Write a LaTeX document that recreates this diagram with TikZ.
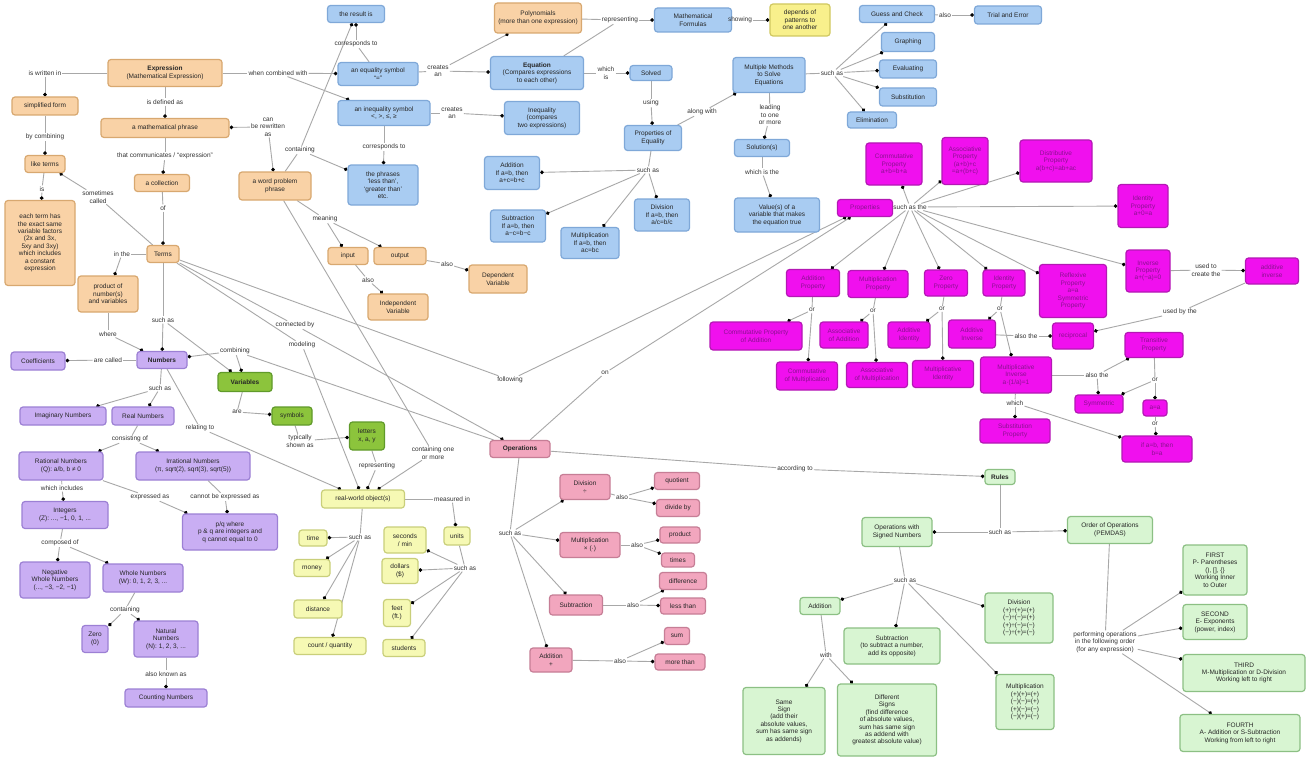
\documentclass[tikz,border=0pt]{standalone}
\usepackage{fontspec}
\setmainfont{Liberation Sans}
\usetikzlibrary{arrows.meta,backgrounds}
\newcommand{\myfs}{\fontsize{6.5}{7.4}\selectfont}
\definecolor{orF}{HTML}{F9D2A6}\definecolor{orD}{HTML}{D8A870}
\definecolor{blF}{HTML}{A9CCF2}\definecolor{blD}{HTML}{7FA8D8}
\definecolor{yeF}{HTML}{F8F08C}\definecolor{yeD}{HTML}{D0C860}
\definecolor{lyF}{HTML}{F6F9B4}\definecolor{lyD}{HTML}{C9CF7A}
\definecolor{mgF}{HTML}{F010EE}\definecolor{mgD}{HTML}{B418B4}
\definecolor{mgT}{HTML}{8A1090}
\definecolor{pkF}{HTML}{F2A6BE}\definecolor{pkD}{HTML}{C67E96}
\definecolor{puF}{HTML}{C9AEF3}\definecolor{puD}{HTML}{9C80D4}
\definecolor{grF}{HTML}{8CC43C}\definecolor{grD}{HTML}{609A2A}
\definecolor{lgF}{HTML}{D8F5D2}\definecolor{lgD}{HTML}{8CC084}
\definecolor{lnC}{HTML}{A8A8A8}
\newcommand{\myln}[2]{\draw[ln] (#1) -- (#2);}
\newcommand{\myar}[2]{\draw[ar] (#1) -- (#2);}
\begin{document}
\begin{tikzpicture}[x=1pt,y=-1pt,
 bx/.style={draw, rounded corners=3pt, line width=1.2pt, align=center, inner sep=1pt, font=\myfs, text=black!85},
 sz/.style 2 args={minimum width=#1, minimum height=#2},
 ob/.style={bx, fill=orF, draw=orD},
 bb/.style={bx, fill=blF, draw=blD},
 yb/.style={bx, fill=yeF, draw=yeD},
 lyb/.style={bx, fill=lyF, draw=lyD},
 mb/.style={bx, fill=mgF, draw=mgD, text=mgT},
 pb/.style={bx, fill=pkF, draw=pkD},
 ub/.style={bx, fill=puF, draw=puD},
 gb/.style={bx, fill=grF, draw=grD},
 lgb/.style={bx, fill=lgF, draw=lgD},
 lab/.style={font=\myfs, align=center, inner sep=1pt, text=black!80},
 ln/.style={draw=lnC, line width=0.9pt},
 ar/.style={ln, -{Circle[length=3.6pt,color=black]}},
]
\useasboundingbox (0,0) rectangle (1306,757);
% ---------------- orange ----------------
\node[ob,sz={114}{27}] (expr) at (165,73) {\textbf{Expression}\\(Mathematical Expression)};
\node[ob,sz={66}{18}] (simp) at (45,106) {simplified form};
\node[ob,sz={40}{17}] (like) at (45,164) {like terms};
\node[ob,sz={70}{85}] (each) at (40,243) {each term has\\the exact same\\variable factors\\(2x and 3x,\\5xy and 3xy)\\which includes\\a constant\\expression};
\node[ob,sz={128}{19}] (phr) at (165,128) {a mathematical phrase};
\node[ob,sz={55}{17}] (coll) at (162,183) {a collection};
\node[ob,sz={32}{17}] (terms) at (163,254) {Terms};
\node[ob,sz={60}{36}] (prod) at (108,294) {product of\\number(s)\\and variables};
\node[ob,sz={72}{28}] (word) at (275,186) {a word problem\\phrase};
\node[ob,sz={40}{17}] (inp) at (348,256) {input};
\node[ob,sz={52}{17}] (outp) at (400,256) {output};
\node[ob,sz={60}{26}] (indv) at (398,307) {Independent\\Variable};
\node[ob,sz={58}{28}] (depv) at (498,279) {Dependent\\Variable};
\node[ob,sz={87}{30}] (poly) at (538,18) {Polynomials\\(more than one expression)};
% ---------------- blue ----------------
\node[bb,sz={57}{17}] (res) at (356,14) {the result is};
\node[bb,sz={80}{23}] (eqs) at (378,74) {an equality symbol\\``=''};
\node[bb,sz={92}{25}] (ineqs) at (384,113) {an inequality symbol\\<, >, ≤, ≥};
\node[bb,sz={70}{40}] (phrs) at (383,185) {the phrases\\`less than',\\`greater than'\\etc.};
\node[bb,sz={93}{33}] (eq) at (537,73) {\textbf{Equation}\\(Compares expressions\\to each other)};
\node[bb,sz={75}{33}] (ineq) at (542,118) {Inequality\\(compares\\two expressions)};
\node[bb,sz={77}{24}] (form) at (693,20) {Mathematical\\Formulas};
\node[yb,sz={60}{32}] (dep) at (800,20) {depends of\\patterns to\\one another};
\node[bb,sz={42}{15}] (solv) at (651,73) {Solved};
\node[bb,sz={57}{25}] (poe) at (653,138) {Properties of\\Equality};
\node[bb,sz={72}{35}] (mm) at (769,75) {Multiple Methods\\to Solve\\Equations};
\node[bb,sz={75}{17}] (gc) at (897,14) {Guess and Check};
\node[bb,sz={67}{18}] (te) at (1008,15) {Trial and Error};
\node[bb,sz={53}{19}] (gr) at (908,42) {Graphing};
\node[bb,sz={57}{18}] (ev) at (908,69) {Evaluating};
\node[bb,sz={57}{18}] (sub) at (908,97) {Substitution};
\node[bb,sz={49}{16}] (el) at (872,120) {Elimination};
\node[bb,sz={55}{17}] (sol) at (762,148) {Solution(s)};
\node[bb,sz={85}{34}] (val) at (777,215) {Value(s) of a\\variable that makes\\the equation true};
\node[bb,sz={55}{33}] (padd) at (512,173) {Addition\\If a=b, then\\a+c=b+c};
\node[bb,sz={55}{32}] (psub) at (518,226) {Subtraction\\If a=b, then\\a−c=b−c};
\node[bb,sz={58}{31}] (pmul) at (590,243) {Multiplication\\If a=b, then\\ac=bc};
\node[bb,sz={55}{32}] (pdiv) at (662,215) {Division\\If a=b, then\\a/c=b/c};
% labels upper
\node[lab] (l_wr) at (45,73) {is written in};
\node[lab] (l_bc) at (45,137) {by combining};
\node[lab] (l_is) at (42,189) {is};
\node[lab] (l_def) at (165,102) {is defined as};
\node[lab] (l_rw) at (268,127) {can\\be rewritten\\as};
\node[lab] (l_com) at (165,156) {that communicates / ``expression''};
\node[lab] (l_of) at (163,208) {of};
\node[lab] (l_sc) at (98,197) {sometimes\\called};
\node[lab] (l_cont) at (300,150) {containing};
\node[lab] (l_wcw) at (278,73) {when combined with};
\node[lab] (l_cr1) at (438,71) {creates\\an};
\node[lab] (l_cr2) at (452,113) {creates\\an};
\node[lab] (l_co1) at (356,44) {corresponds to};
\node[lab] (l_co2) at (384,147) {corresponds to};
\node[lab] (l_rep) at (620,20) {representing};
\node[lab] (l_show) at (740,20) {showing};
\node[lab] (l_wi) at (606,73) {which\\is};
\node[lab] (l_us) at (651,103) {using};
\node[lab] (l_aw) at (702,112) {along with};
\node[lab] (l_sa1) at (832,73) {such as};
\node[lab] (l_also1) at (945,15) {also};
\node[lab] (l_lead) at (770,115) {leading\\to one\\or more};
\node[lab] (l_wit) at (762,172) {which is the};
\node[lab] (l_sa2) at (648,170) {such as};
\node[lab] (l_mean) at (325,219) {meaning};
\node[lab] (l_also2) at (368,280) {also};
\node[lab] (l_also3) at (447,264) {also};
% ---------------- green variables ----------------
\node[gb,sz={54}{19}] (var) at (245,382) {\textbf{Variables}};
\node[gb,sz={40}{18}] (sym) at (292,416) {symbols};
\node[gb,sz={35}{28}] (let) at (367,436) {letters\\x, a, y};
\node[lab] (l_are) at (237,412) {are};
\node[lab] (l_tsa) at (300,441) {typically\\shown as};
\node[lab] (l_rp2) at (377,466) {representing};
\node[lab] (l_cm) at (433,453) {containing one\\or more};
% ---------------- yellow ----------------
\node[lyb,sz={83}{18}] (rwo) at (363,499) {real-world object(s)};
\node[lab] (l_mi) at (452,499) {measured in};
\node[lyb,sz={26}{18}] (units) at (457,536) {units};
\node[lab] (l_sa3) at (360,537) {such as};
\node[lyb,sz={28}{16}] (time) at (313,538) {time};
\node[lyb,sz={36}{17}] (money) at (312,568) {money};
\node[lyb,sz={48}{18}] (dist) at (318,609) {distance};
\node[lyb,sz={72}{17}] (cnt) at (330,646) {count / quantity};
\node[lyb,sz={42}{26}] (secs) at (405,540) {seconds\\/ min};
\node[lyb,sz={36}{25}] (doll) at (400,571) {dollars\\(\$)};
\node[lyb,sz={27}{27}] (feet) at (397,613) {feet\\(ft.)};
\node[lyb,sz={42}{17}] (stud) at (404,648) {students};
\node[lab] (l_sa4) at (465,568) {such as};
% ---------------- purple ----------------
\node[ub,sz={50}{17}] (num) at (162,360) {\textbf{Numbers}};
\node[lab] (l_ac) at (108,360) {are called};
\node[ub,sz={54}{18}] (coef) at (38,361) {Coefficients};
\node[lab] (l_sa5) at (160,388) {such as};
\node[ub,sz={86}{18}] (imag) at (63,416) {Imaginary Numbers};
\node[ub,sz={62}{18}] (real) at (143,416) {Real Numbers};
\node[lab] (l_co) at (130,439) {consisting of};
\node[ub,sz={84}{28}] (rat) at (61,466) {Rational Numbers\\(Q): a/b, b ≠ 0};
\node[ub,sz={114}{28}] (irr) at (193,466) {Irrational Numbers\\(π, sqrt(2), sqrt(3), sqrt(5))};
\node[lab] (l_wi2) at (62,488) {which includes};
\node[lab] (l_ea) at (150,497) {expressed as};
\node[lab] (l_ce) at (225,497) {cannot be expressed as};
\node[ub,sz={86}{27}] (int) at (65,515) {Integers\\(Z): ..., −1, 0, 1, ...};
\node[ub,sz={95}{36}] (pq) at (230,532) {p/q where\\p \& q are integers and\\q cannot equal to 0};
\node[lab] (l_cmp) at (60,543) {composed of};
\node[ub,sz={70}{36}] (neg) at (55,580) {Negative\\Whole Numbers\\(..., −3, −2, −1)};
\node[ub,sz={80}{28}] (whole) at (143,578) {Whole Numbers\\(W): 0, 1, 2, 3, ...};
\node[lab] (l_cont2) at (125,610) {containing};
\node[ub,sz={26}{27}] (zero) at (95,639) {Zero\\(0)};
\node[ub,sz={64}{36}] (nat) at (166,639) {Natural\\Numbers\\(N): 1, 2, 3, ...};
\node[lab] (l_aka) at (166,674) {also known as};
\node[ub,sz={82}{18}] (count) at (166,698) {Counting Numbers};
\node[lab] (l_rel) at (200,428) {relating to};
% terms labels
\node[lab] (l_inthe) at (122,254) {in the};
\node[lab] (l_where) at (108,334) {where};
\node[lab] (l_sa6) at (163,320) {such as};
\node[lab] (l_comb) at (235,351) {combining};
\node[lab] (l_conn) at (295,325) {connected by};
\node[lab] (l_mod) at (302,345) {modeling};
\node[lab] (l_fol) at (510,380) {following};
\node[lab] (l_on) at (605,373) {on};
% ---------------- pink ----------------
\node[pb,sz={60}{17}] (ops) at (520,449) {\textbf{Operations}};
\node[lab] (l_sa7) at (510,533) {such as};
\node[pb,sz={50}{25}] (div) at (585,487) {Division\\÷};
\node[lab] (l_al4) at (622,497) {also};
\node[pb,sz={45}{17}] (quot) at (677,481) {quotient};
\node[pb,sz={43}{17}] (divby) at (678,508) {divide by};
\node[pb,sz={60}{25}] (mul) at (590,545) {Multiplication\\× (·)};
\node[lab] (l_al5) at (637,545) {also};
\node[pb,sz={40}{16}] (prodp) at (680,535) {product};
\node[pb,sz={33}{14}] (times) at (678,560) {times};
\node[pb,sz={53}{20}] (subp) at (576,605) {Subtraction};
\node[lab] (l_al6) at (633,605) {also};
\node[pb,sz={47}{17}] (diff) at (683,581) {difference};
\node[pb,sz={45}{16}] (less) at (683,606) {less than};
\node[pb,sz={42}{24}] (addp) at (551,660) {Addition\\+};
\node[lab] (l_al7) at (620,661) {also};
\node[pb,sz={25}{17}] (sum) at (677,636) {sum};
\node[pb,sz={50}{16}] (more) at (680,662) {more than};
\node[lab] (l_acc) at (795,469) {according to};
% ---------------- green rules ----------------
\node[lgb,sz={30}{15}] (rules) at (1000,477) {\textbf{Rules}};
\node[lab] (l_sa8) at (1000,532) {such as};
\node[lgb,sz={70}{29}] (ows) at (897,532) {Operations with\\Signed Numbers};
\node[lgb,sz={85}{27}] (ord) at (1110,530) {Order of Operations\\(PEMDAS)};
\node[lab] (l_sa9) at (905,580) {such as};
\node[lgb,sz={40}{17}] (radd) at (820,606) {Addition};
\node[lgb,sz={96}{36}] (rsub) at (892,646) {Subtraction\\(to subtract a number,\\add its opposite)};
\node[lgb,sz={68}{50}] (rdiv) at (1019,618) {Division\\(+)÷(+)=(+)\\(−)÷(−)=(+)\\(+)÷(−)=(−)\\(−)÷(+)=(−)};
\node[lgb,sz={58}{55}] (rmul) at (1025,702) {Multiplication\\(+)(+)=(+)\\(−)(−)=(+)\\(+)(−)=(−)\\(−)(+)=(−)};
\node[lab] (l_with) at (826,655) {with};
\node[lgb,sz={82}{67}] (same) at (784,721) {Same\\Sign\\(add their\\absolute values,\\sum has same sign\\as addends)};
\node[lgb,sz={99}{72}] (difs) at (887,720) {Different\\Signs\\(find difference\\of absolute values,\\sum has same sign\\as addend with\\greatest absolute value)};
\node[lab] (l_perf) at (1105,642) {performing operations\\in the following order\\(for any expression)};
\node[lgb,sz={64}{50}] (first) at (1215,570) {FIRST\\P- Parentheses\\(), [], \{\}\\Working Inner\\to Outer};
\node[lgb,sz={64}{35}] (second) at (1215,622) {SECOND\\E- Exponents\\(power, index)};
\node[lgb,sz={122}{37}] (third) at (1244,673) {THIRD\\M-Multiplication or D-Division\\Working left to right};
\node[lgb,sz={120}{37}] (fourth) at (1240,733) {FOURTH\\A- Addition or S-Subtraction\\Working from left to right};
% ---------------- magenta ----------------
\node[mb,sz={55}{17}] (prop) at (865,208) {Properties};
\node[lab] (l_sat) at (910,207) {such as the};
\node[mb,sz={56}{42}] (m1) at (894,164) {Commutative\\Property\\a+b=b+a};
\node[mb,sz={46}{47}] (m2) at (965,161) {Associative\\Property\\(a+b)+c\\=a+(b+c)};
\node[mb,sz={72}{42}] (m3) at (1056,161) {Distributive\\Property\\a(b+c)=ab+ac};
\node[mb,sz={50}{43}] (m4) at (1143,206) {Identity\\Property\\a+0=a};
\node[mb,sz={44}{42}] (m5) at (1148,271) {Inverse\\Property\\a+(−a)=0};
\node[mb,sz={53}{26}] (m6) at (1272,271) {additive\\inverse};
\node[mb,sz={53}{27}] (m7) at (813,283) {Addition\\Property};
\node[mb,sz={60}{27}] (m8) at (878,284) {Multiplication\\Property};
\node[mb,sz={43}{26}] (m9) at (946,283) {Zero\\Property};
\node[mb,sz={42}{26}] (m10) at (1004,283) {Identity\\Property};
\node[mb,sz={67}{53}] (m11) at (1073,291) {Reflexive\\Property\\a=a\\Symmetric\\Property};
\node[mb,sz={92}{28}] (m12) at (756,336) {Commutative Property\\of Addition};
\node[mb,sz={48}{26}] (m13) at (844,335) {Associative\\of Addition};
\node[mb,sz={42}{26}] (m14) at (909,335) {Additive\\Identity};
\node[mb,sz={47}{28}] (m15) at (972,334) {Additive\\Inverse};
\node[mb,sz={41}{26}] (m16) at (1073,336) {reciprocal};
\node[mb,sz={61}{28}] (m17) at (807,376) {Commutative\\of Multiplication};
\node[mb,sz={61}{25}] (m18) at (877,375) {Associative\\of Multiplication};
\node[mb,sz={61}{27}] (m19) at (943,374) {Multiplicative\\Identity};
\node[mb,sz={71}{36}] (m20) at (1016,375) {Multiplicative\\Inverse\\a·(1/a)=1};
\node[mb,sz={58}{25}] (m21) at (1154,345) {Transitive\\Property};
\node[mb,sz={48}{18}] (m22) at (1099,404) {Symmetric};
\node[mb,sz={24}{16}] (m23) at (1155,408) {a=a};
\node[mb,sz={70}{24}] (m24) at (1015,431) {Substitution\\Property};
\node[mb,sz={70}{26}] (m25) at (1157,449) {if a=b, then\\b=a};
\node[lab] (or1) at (812,310) {or};
\node[lab] (or2) at (873,311) {or};
\node[lab] (or3) at (942,309) {or};
\node[lab] (or4) at (1000,309) {or};
\node[lab] (l_aka2) at (1026,336) {also the};
\node[lab] (l_ut) at (1206,270) {used to\\create the};
\node[lab] (l_ub) at (1180,312) {used by the};
\node[lab] (l_at2) at (1097,375) {also the};
\node[lab] (or5) at (1155,380) {or};
\node[lab] (l_which) at (1015,403) {which};
\node[lab] (or6) at (1155,424) {or};
% ================= connectors =================
\begin{scope}[on background layer]
\fill[white] (0,0) rectangle (1306,757);
\myln{expr}{l_wr} \myar{l_wr}{simp}
\myln{simp}{l_bc} \myar{l_bc}{like}
\myln{like}{l_is} \myar{l_is}{each}
\myln{expr}{l_def} \myar{l_def}{phr}
\myln{phr}{l_com} \myar{l_com}{coll}
\myln{coll}{l_of} \myar{l_of}{terms}
\myln{terms}{l_sc} \myar{l_sc}{like}
\myar{l_rw}{phr} \myar{l_rw}{word}
\myln{expr}{l_wcw} \myar{l_wcw}{eqs} \myar{l_wcw}{ineqs}
\myln{eqs}{l_co1} \myar{l_co1}{res}
\myln{ineqs}{l_co2} \myar{l_co2}{phrs}
\myln{eqs}{l_cr1} \myar{l_cr1}{eq} \myar{l_cr1}{poly}
\myln{ineqs}{l_cr2} \myar{l_cr2}{ineq}
\myln{poly}{l_rep} \myln{eq}{l_rep} \myar{l_rep}{form}
\myln{form}{l_show} \myar{l_show}{dep}
\myln{eq}{l_wi} \myar{l_wi}{solv}
\myln{solv}{l_us} \myar{l_us}{poe}
\myln{poe}{l_aw} \myar{l_aw}{mm}
\myln{mm}{l_sa1} \myar{l_sa1}{gc} \myar{l_sa1}{gr} \myar{l_sa1}{ev} \myar{l_sa1}{sub} \myar{l_sa1}{el}
\myln{gc}{l_also1} \myar{l_also1}{te}
\myln{mm}{l_lead} \myar{l_lead}{sol}
\myln{sol}{l_wit} \myar{l_wit}{val}
\myln{poe}{l_sa2} \myar{l_sa2}{padd} \myar{l_sa2}{psub} \myar{l_sa2}{pmul} \myar{l_sa2}{pdiv}
\myln{word}{l_cont} \myar{l_cont}{res} \myar{l_cont}{phrs}
\myln{word}{l_mean} \myar{l_mean}{inp} \myar{l_mean}{outp}
\myln{inp}{l_also2} \myar{l_also2}{indv}
\myln{outp}{l_also3} \myar{l_also3}{depv}
\myln{word}{l_cm} \myar{l_cm}{rwo}
\myln{terms}{l_inthe} \myar{l_inthe}{prod}
\myln{prod}{l_where} \myar{l_where}{num}
\myln{terms}{l_sa6} \myar{l_sa6}{num} \myar{l_sa6}{var}
\myar{l_comb}{num} \myar{l_comb}{var} \myln{ops}{l_comb}
\myln{terms}{l_conn} \myar{l_conn}{ops}
\myln{terms}{l_mod} \myar{l_mod}{rwo}
\myln{terms}{l_fol} \myar{l_fol}{prop}
\myln{ops}{l_on} \myar{l_on}{prop}
\myln{var}{l_are} \myar{l_are}{sym}
\myln{sym}{l_tsa} \myar{l_tsa}{let}
\myln{let}{l_rp2} \myar{l_rp2}{rwo}
\myln{num}{l_rel} \myar{l_rel}{rwo}
\myln{num}{l_ac} \myar{l_ac}{coef}
\myln{num}{l_sa5} \myar{l_sa5}{imag} \myar{l_sa5}{real}
\myln{real}{l_co} \myar{l_co}{rat} \myar{l_co}{irr}
\myln{rat}{l_wi2} \myar{l_wi2}{int}
\myln{rat}{l_ea} \myar{l_ea}{pq}
\myln{irr}{l_ce} \myar{l_ce}{pq}
\myln{int}{l_cmp} \myar{l_cmp}{neg} \myar{l_cmp}{whole}
\myln{whole}{l_cont2} \myar{l_cont2}{zero} \myar{l_cont2}{nat}
\myln{nat}{l_aka} \myar{l_aka}{count}
\myln{rwo}{l_mi} \myar{l_mi}{units}
\myln{rwo}{l_sa3} \myar{l_sa3}{time} \myar{l_sa3}{money} \myar{l_sa3}{dist} \myar{l_sa3}{cnt}
\myln{units}{l_sa4} \myar{l_sa4}{secs} \myar{l_sa4}{doll} \myar{l_sa4}{feet} \myar{l_sa4}{stud}
\myln{ops}{l_sa7} \myar{l_sa7}{div} \myar{l_sa7}{mul} \myar{l_sa7}{subp} \myar{l_sa7}{addp}
\myln{div}{l_al4} \myar{l_al4}{quot} \myar{l_al4}{divby}
\myln{mul}{l_al5} \myar{l_al5}{prodp} \myar{l_al5}{times}
\myln{subp}{l_al6} \myar{l_al6}{diff} \myar{l_al6}{less}
\myln{addp}{l_al7} \myar{l_al7}{sum} \myar{l_al7}{more}
\myln{ops}{l_acc} \myar{l_acc}{rules}
\myln{rules}{l_sa8} \myar{l_sa8}{ows} \myar{l_sa8}{ord}
\myln{ows}{l_sa9} \myar{l_sa9}{radd} \myar{l_sa9}{rsub} \myar{l_sa9}{rdiv} \myar{l_sa9}{rmul}
\myln{radd}{l_with} \myar{l_with}{same} \myar{l_with}{difs}
\myln{ord}{l_perf} \myar{l_perf}{first} \myar{l_perf}{second} \myar{l_perf}{third} \myar{l_perf}{fourth}
\myln{prop}{l_sat}
\myar{l_sat}{m1} \myar{l_sat}{m2} \myar{l_sat}{m3} \myar{l_sat}{m4} \myar{l_sat}{m5}
\myar{l_sat}{m7} \myar{l_sat}{m8} \myar{l_sat}{m9} \myar{l_sat}{m10} \myar{l_sat}{m11}
\myln{m7}{or1} \myar{or1}{m12} \myar{or1}{m17}
\myln{m8}{or2} \myar{or2}{m13} \myar{or2}{m18}
\myln{m9}{or3} \myar{or3}{m14} \myar{or3}{m19}
\myln{m10}{or4} \myar{or4}{m15} \myar{or4}{m20}
\myln{m15}{l_aka2} \myar{l_aka2}{m16}
\myln{m5}{l_ut} \myar{l_ut}{m6}
\myln{m6}{l_ub} \myar{l_ub}{m16}
\myln{m20}{l_at2} \myar{l_at2}{m21} \myar{l_at2}{m22}
\myln{m21}{or5} \myar{or5}{m22} \myar{or5}{m23}
\myln{m23}{or6} \myar{or6}{m25}
\myln{m20}{l_which} \myar{l_which}{m24} \myar{l_which}{m25}
\end{scope}
\end{tikzpicture}
\end{document}
